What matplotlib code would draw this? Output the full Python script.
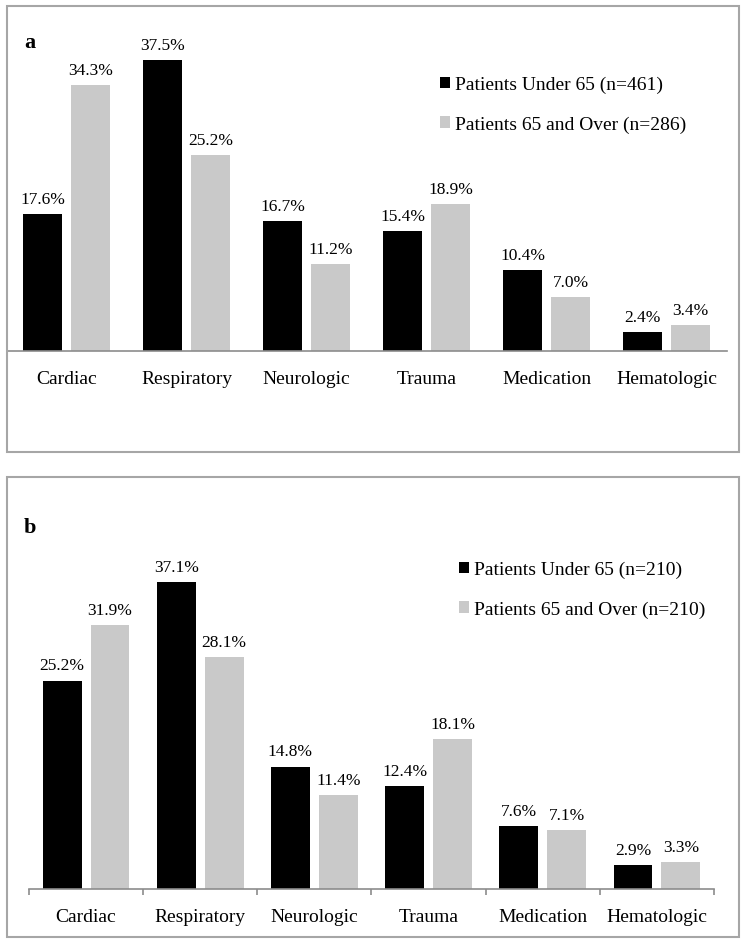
import numpy as np
import matplotlib
matplotlib.use("Agg")
import matplotlib.pyplot as plt
from matplotlib.patches import Rectangle

plt.rcParams['font.family'] = ['Liberation Serif', 'DejaVu Serif']

# datos
categories = ['Cardiac', 'Respiratory', 'Neurologic', 'Trauma', 'Medication', 'Hematologic']
under65_a = [17.6, 37.5, 16.7, 15.4, 10.4, 2.4]
over65_a = [34.3, 25.2, 11.2, 18.9, 7.0, 3.4]
under65_b = [25.2, 37.1, 14.8, 12.4, 7.6, 2.9]
over65_b = [31.9, 28.1, 11.4, 18.1, 7.1, 3.3]
legend_a = ['Patients Under 65 (n=461)', 'Patients 65 and Over (n=286)']
legend_b = ['Patients Under 65 (n=210)', 'Patients 65 and Over (n=210)']

W, H = 745, 945
BLACK = '#000000'
GREY = '#c9c9c9'
BORDER = '#a6a6a6'
AXIS = '#8c8c8c'

fig = plt.figure(figsize=(W / 100, H / 100), dpi=100)


def px_axes(x0, x1, base, top):
    # pixel coords (origin top-left) -> figure fractions
    return fig.add_axes([x0 / W, 1 - base / H, (x1 - x0) / W, (base - top) / H])


def panel(ax, under, over, width, offset, ticks, labels, leg_xy):
    x = np.arange(len(categories))
    b1 = ax.bar(x - offset, under, width, color=BLACK, label=labels[0])
    b2 = ax.bar(x + offset, over, width, color=GREY, label=labels[1])
    for bars, vals in ((b1, under), (b2, over)):
        for r, v in zip(bars, vals):
            ax.annotate(f'{v:.1f}%', (r.get_x() + r.get_width() / 2, v),
                        xytext=(0, 8), textcoords='offset points',
                        ha='center', va='baseline', fontsize=12.5)
    ax.set_xlim(-0.5, len(categories) - 0.5)
    ax.set_ylim(0, 40)
    for s in ('top', 'right', 'left'):
        ax.spines[s].set_visible(False)
    ax.spines['bottom'].set_color(AXIS)
    ax.spines['bottom'].set_linewidth(1.2)
    ax.set_yticks([])
    ax.set_xticks(x)
    ax.set_xticklabels(categories, fontsize=14)
    ax.tick_params(axis='x', length=0, pad=13.5)
    if ticks:
        ax.set_xticks(np.arange(-0.5, len(categories)), minor=True)
        ax.tick_params(axis='x', which='minor', length=4, color=AXIS, width=1.2)
    ax.patch.set_alpha(0)
    fig.legend(handles=[b1, b2], loc='upper left',
               bbox_to_anchor=(leg_xy[0] / W, 1 - leg_xy[1] / H),
               frameon=False, fontsize=14, handlelength=0.5, handleheight=0.5,
               handletextpad=0.25, labelspacing=1.15, borderpad=0, borderaxespad=0)


# panel a
ax_a = px_axes(6.5, 726.5, 352, 352 - 40 * 7.76)
panel(ax_a, under65_a, over65_a, 0.333, 0.2, False, legend_a, (440, 77))

# panel b
ax_b = px_axes(29, 714, 890, 890 - 40 * 8.27)
panel(ax_b, under65_b, over65_b, 0.34, 0.21, True, legend_b, (459, 562))

# marcos
for (x0, y0, x1, y1) in [(7, 7, 739, 453), (7, 478, 739, 938)]:
    fig.patches.append(Rectangle((x0 / W, 1 - y1 / H), (x1 - x0) / W, (y1 - y0) / H,
                                 transform=fig.transFigure, fill=False,
                                 edgecolor=BORDER, linewidth=1.5))

fig.text(24 / W, 1 - 48 / H, 'a', fontsize=16, fontweight='bold', va='baseline')
fig.text(24 / W, 1 - 533 / H, 'b', fontsize=16, fontweight='bold', va='baseline')

fig.savefig('out.png', dpi=100)
